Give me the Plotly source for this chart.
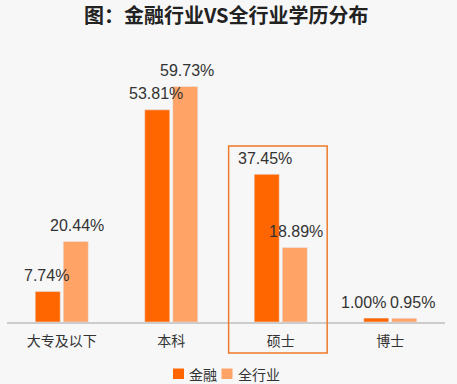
import plotly.graph_objects as go

categories = ["大专及以下", "本科", "硕士", "博士"]
finance = [7.74, 53.81, 37.45, 1.00]
all_industry = [20.44, 59.73, 18.89, 0.95]
series_names = ["金融", "全行业"]
title_text = "图：金融行业VS全行业学历分布"

c_fin = "#FF6600"
c_all = "#FFA366"
txt = "#333333"
cjk = "Noto Sans CJK SC, sans-serif"
latin = "Liberation Sans, Arial, sans-serif"

fig = go.Figure()
fig.add_trace(go.Bar(x=categories, y=finance, name=series_names[0],
                     marker=dict(color=c_fin), showlegend=False))
fig.add_trace(go.Bar(x=categories, y=all_industry, name=series_names[1],
                     marker=dict(color=c_all), showlegend=False))

# value labels above each bar (small horizontal nudges where labels would touch)
bar_offset = 15.5
fin_nudge = [0, 0, 0, -11]
all_nudge = [0, 0, 0, 6.5]
for i, cat in enumerate(categories):
    fig.add_annotation(x=cat, y=finance[i], xref="x", yref="y",
                       text=f"{finance[i]:.2f}%", showarrow=False,
                       xanchor="center", yanchor="middle",
                       xshift=-bar_offset + fin_nudge[i], yshift=16,
                       font=dict(family=latin, size=16, color=txt))
    fig.add_annotation(x=cat, y=all_industry[i], xref="x", yref="y",
                       text=f"{all_industry[i]:.2f}%", showarrow=False,
                       xanchor="center", yanchor="middle",
                       xshift=bar_offset + all_nudge[i], yshift=16,
                       font=dict(family=latin, size=16, color=txt))

# highlight box around 硕士
fig.add_shape(type="rect", xref="paper", yref="paper",
              x0=0.506, x1=0.731, y0=-0.112, y1=0.638,
              line=dict(color="#F07A2A", width=1.5), fillcolor="rgba(0,0,0,0)")

# legend
legend_items = [(series_names[0], c_fin, 0.379, 0.411), (series_names[1], c_all, 0.4897, 0.5217)]
for name, col, sx, tx in legend_items:
    fig.add_shape(type="rect", xref="paper", yref="paper",
                  x0=sx, x1=sx + 0.0251, y0=-0.2065, y1=-0.1685,
                  line=dict(width=0), fillcolor=col)
    fig.add_annotation(x=tx, y=-0.1866, xref="paper", yref="paper", text=name,
                       showarrow=False, xanchor="left", yanchor="middle",
                       font=dict(family=cjk, size=14, color=txt))

fig.update_layout(
    width=457, height=384,
    margin=dict(l=7, r=12, t=46, b=62, autoexpand=False),
    paper_bgcolor="#F7F7F7", plot_bgcolor="#F7F7F7",
    barmode="group", bargap=0.488, bargroupgap=0.107,
    title=dict(text=f"<b>{title_text}</b>", x=0.495, xanchor="center",
               xref="container", yref="container", y=1 - 15.5 / 384, yanchor="middle",
               font=dict(family=cjk, size=20, color="#222222")),
    font=dict(family=cjk, color=txt),
    showlegend=False,
)
fig.update_xaxes(showline=True, linecolor="#CCCCCC", linewidth=1.5, ticks="",
                 tickfont=dict(family=cjk, size=14, color=txt), showgrid=False,
                 automargin=False, ticklabelstandoff=5)
fig.update_yaxes(range=[0, 70], visible=False, showgrid=False, automargin=False)

fig.write_html("out.html", config={"displayModeBar": False},
               post_script="document.body.style.margin='0';")
